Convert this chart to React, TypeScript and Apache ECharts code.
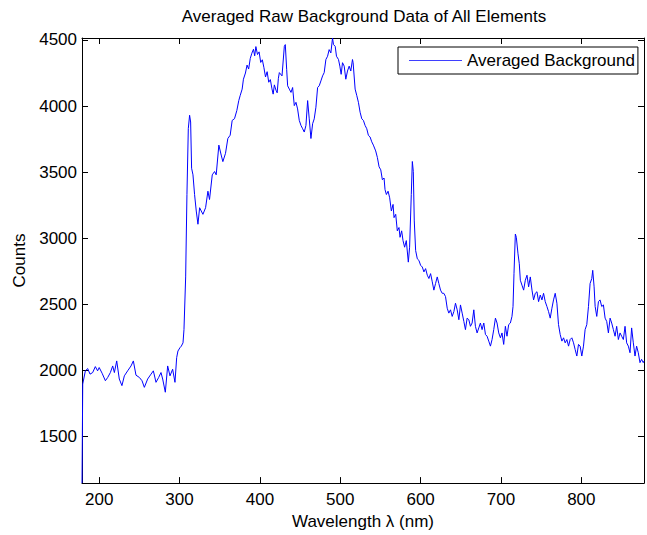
import React, { useEffect, useRef } from "react";
import * as echarts from "echarts";

const TITLE = "Averaged Raw Background Data of All Elements";
const X_NAME = "Wavelength λ (nm)";
const Y_NAME = "Counts";
const SERIES_NAME = "Averaged Background";

const X_MIN = 178.6;
const X_MAX = 878;
const Y_MIN = 1145;
const Y_MAX = 4515;

const wavelength = [
  178.6, 179.5, 182.8, 185.7, 188.6, 191.9, 195.2, 198.0, 200.0, 203.6, 207.7, 210.6, 213.9, 216.8, 218.9,
  221.8, 225.0, 228.3, 231.3, 235.4, 239.6, 242.5, 245.8, 250.0, 253.3, 256.2, 260.3, 264.5, 267.4, 270.7,
  274.0, 276.9, 279.0, 282.3, 285.2, 288.1, 291.4, 294.3, 296.4, 298.0, 300.5, 302.2, 304.3, 305.5, 307.6,
  309.2, 310.9, 312.5, 313.8, 315.0, 316.7, 318.7, 320.8, 322.9, 325.0, 327.0, 329.1, 332.4, 335.3, 337.3,
  340.7, 343.6, 345.6, 348.9, 351.8, 353.9, 357.2, 360.1, 363.0, 365.5, 368.4, 371.3, 373.7, 375.4, 377.9,
  379.5, 382, 384, 386, 388, 390, 392, 393.5, 395, 397, 399, 401, 403, 405, 407, 409, 411, 413, 415, 416.5,
  418, 420, 421.5, 423, 424.2, 427.5, 430.4, 431.6, 433.3, 434.5, 436.6, 438.7, 440.7, 442.8, 444.9, 446.9,
  449.0, 451.1, 453.2, 455.2, 457.3, 459.4, 461.4, 463.5, 465.6, 467.6, 469.7, 471.8, 473.8, 475.9, 478.0,
  480.0, 482.1, 484.2, 486.2, 488.3, 490.4, 491.6, 493.7, 495.3, 497.8, 499.5, 501.1, 502.8, 504.9, 506.9,
  509.0, 511.1, 513.1, 515.2, 516.0, 518.5, 520.6, 522.6, 524.7, 526.8, 528.8, 530.9, 533.0, 535.0, 537.1,
  539.2, 541.2, 544.1, 546.2, 548.3, 550.4, 552.4, 554.5, 555.7, 557.4, 559.5, 561.5, 563.6, 565.7, 566.9,
  569.0, 571.0, 573.1, 574.4, 576.4, 578.1, 580.1, 582.2, 584.7, 586.3, 588.4, 589.7, 590.9, 592.1, 593.8,
  595.9, 597.9, 600.0, 602.1, 604.1, 606.2, 608.3, 610.3, 612.4, 614.5, 616.5, 618.6, 620.7, 622.7, 624.8,
  626.9, 628.9, 631.0, 633.1, 635.1, 637.2, 639.3, 641.4, 643.4, 645.5, 647.6, 649.6, 651.7, 653.8, 655.8,
  657.9, 660.0, 662.0, 664.1, 666.2, 668.2, 670.3, 672.4, 674.4, 676.5, 678.6, 680.7, 682.7, 684.8, 686.9,
  688.9, 691.0, 693.1, 695.1, 697.2, 699.3, 701.3, 703.4, 705.5, 707.5, 709.6, 711.7, 713.7, 715.0, 716.2,
  717.9, 719.1, 721.2, 722.8, 724.1, 726.1, 728.2, 730.3, 732.4, 734.4, 736.5, 738.6, 740.6, 742.7, 744.8,
  746.8, 748.9, 751.0, 753.0, 755.1, 757.2, 759.2, 761.3, 763.4, 765.4, 767.5, 769.6, 771.6, 773.7, 775.8,
  777.9, 779.9, 782.0, 784.1, 786.1, 788.2, 790.3, 792.3, 794.4, 796.5, 798.5, 800.6, 802.7, 804.7, 806.8,
  808.9, 810.9, 813.0, 814.2, 815.9, 817.2, 819.2, 821.3, 823.3, 825.4, 827.5, 829.6, 831.6, 833.7, 835.8,
  837.8, 839.9, 842.0, 844.0, 846.1, 848.2, 850.2, 852.3, 854.4, 856.4, 858.5, 860.6, 862.6, 864.7, 866.8,
  868.8, 870.9, 873.0, 875.0, 877.1, 878.0,
];

const counts = [
  1145, 1895, 1995, 2012, 1970, 1982, 2027, 1995, 2020, 1977, 1920, 1945, 1982, 2032, 1982,
  2070, 1933, 1883, 1957, 1995, 2032, 2070, 1962, 1945, 1920, 1870, 1933, 1970, 1995, 1908,
  1945, 1982, 1933, 1833, 2032, 1957, 2007, 1908, 2095, 2145, 2170, 2182, 2207, 2307, 2706,
  3330, 3829, 3930, 3879, 3529, 3479, 3330, 3205, 3105, 3230, 3205, 3180, 3230, 3355, 3292,
  3479, 3504, 3479, 3704, 3629, 3579, 3642, 3754, 3779, 3891, 3904, 3966, 4041, 4078, 4128,
  4203, 4250, 4310, 4280, 4360, 4400, 4430, 4380, 4450, 4390, 4410, 4330, 4350, 4290, 4220, 4260, 4180, 4200, 4130, 4090,
  4160, 4120, 4100, 4210, 4253, 4228, 4452, 4465, 4278, 4153, 4128, 4103, 4140, 4003, 4028, 3978,
  3891, 3853, 3828, 3803, 3853, 4041, 3903, 3754, 3866, 3903, 3991, 4140, 4153, 4190, 4228,
  4253, 4352, 4377, 4427, 4402, 4515, 4465, 4452, 4377, 4352, 4302, 4240, 4328, 4302, 4203,
  4265, 4302, 4265, 4352, 4328, 4128, 4078, 4028, 3953, 3903, 3891, 3853, 3828, 3778, 3766,
  3729, 3704, 3660, 3610, 3540, 3517, 3442, 3455, 3367, 3330, 3355, 3305, 3205, 3255, 3155,
  3180, 3055, 3080, 3006, 3055, 2981, 2931, 2981, 2818, 2931, 3330, 3580, 3505, 3130, 2906,
  2843, 2831, 2794, 2781, 2744, 2769, 2719, 2694, 2731, 2669, 2606, 2656, 2706, 2656, 2606,
  2582, 2582, 2557, 2469, 2432, 2457, 2407, 2444, 2507, 2457, 2382, 2494, 2432, 2369, 2307,
  2394, 2382, 2332, 2357, 2457, 2332, 2282, 2320, 2357, 2307, 2357, 2270, 2257, 2220, 2182,
  2232, 2307, 2394, 2357, 2282, 2245, 2282, 2195, 2332, 2257, 2345, 2357, 2407, 2482, 2731,
  3031, 3006, 2881, 2806, 2681, 2644, 2606, 2681, 2719, 2631, 2706, 2606, 2532, 2582, 2594,
  2519, 2569, 2532, 2582, 2519, 2482, 2444, 2394, 2469, 2532, 2582, 2507, 2345, 2270, 2220,
  2245, 2207, 2232, 2182, 2232, 2245, 2207, 2157, 2107, 2195, 2182, 2107, 2182, 2307, 2345,
  2482, 2656, 2694, 2756, 2631, 2482, 2407, 2519, 2532, 2482, 2494, 2394, 2369, 2282, 2394,
  2357, 2307, 2257, 2332, 2232, 2282, 2257, 2232, 2332, 2207, 2182, 2132, 2320, 2207, 2107,
  2182, 2132, 2057, 2082, 2057, 2070,
];

const FONT = "'Liberation Sans', Arial, Helvetica, sans-serif";

export default function App() {
  const ref = useRef<HTMLDivElement>(null);

  useEffect(() => {
    if (!ref.current) return;
    const chart = echarts.init(ref.current, undefined, { renderer: "svg" });
    const data = wavelength.map((w, i) => [w, counts[i]]);
    const axisCommon = {
      type: "value" as const,
      axisLine: { show: true, onZero: false, lineStyle: { color: "#000", width: 1 } },
      axisTick: { show: true, inside: true, length: 6, lineStyle: { color: "#000", width: 1 } },
      splitLine: { show: false },
    };
    chart.setOption({
      animation: false,
      backgroundColor: "#fff",
      textStyle: { fontFamily: FONT },
      graphic: [
        {
          type: "text",
          x: 364,
          y: 16,
          style: {
            text: TITLE,
            fontSize: 17,
            fontFamily: FONT,
            fill: "#000",
            textAlign: "center",
            textVerticalAlign: "middle",
          },
        },
      ],
      grid: { left: 82, right: 1, top: 38, bottom: 47, containLabel: false },
      legend: {
        show: true,
        left: 398,
        top: 47,
        orient: "horizontal",
        itemWidth: 53,
        itemHeight: 1,
        itemGap: 0,
        padding: [4, 3, 4, 11],
        borderColor: "#000",
        borderWidth: 1,
        borderRadius: 0,
        backgroundColor: "#fff",
        textStyle: { fontSize: 17, color: "#000", fontFamily: FONT, lineHeight: 19 },
        data: [
          {
            name: SERIES_NAME,
            icon: "rect",
            itemStyle: { color: "#3f3fff", borderWidth: 0 },
          },
        ],
      },
      xAxis: [
        {
          ...axisCommon,
          position: "bottom",
          min: X_MIN,
          max: X_MAX,
          minInterval: 100,
          maxInterval: 100,
          axisLabel: {
            show: true,
            margin: 8,
            fontSize: 17,
            color: "#000",
            fontFamily: FONT,
            formatter: (v: number) => (Math.abs(v % 100) < 1e-6 ? String(v) : ""),
          },
          name: X_NAME,
          nameLocation: "middle",
          nameGap: 29,
          nameTextStyle: { fontSize: 17, color: "#000", fontFamily: FONT },
        },
        {
          ...axisCommon,
          position: "top",
          min: X_MIN,
          max: X_MAX,
          minInterval: 100,
          maxInterval: 100,
          axisLabel: { show: false },
        },
      ],
      yAxis: [
        {
          ...axisCommon,
          position: "left",
          min: Y_MIN,
          max: Y_MAX,
          minInterval: 500,
          maxInterval: 500,
          axisLabel: {
            show: true,
            margin: 5,
            fontSize: 17,
            color: "#000",
            fontFamily: FONT,
            formatter: (v: number) => (Math.abs(v % 500) < 1e-6 ? String(v) : ""),
          },
          name: Y_NAME,
          nameLocation: "middle",
          nameGap: 53,
          nameTextStyle: { fontSize: 17, color: "#000", fontFamily: FONT },
        },
        {
          ...axisCommon,
          position: "right",
          min: Y_MIN,
          max: Y_MAX,
          minInterval: 500,
          maxInterval: 500,
          axisLabel: { show: false },
        },
      ],
      series: [
        {
          name: SERIES_NAME,
          type: "line",
          xAxisIndex: 0,
          yAxisIndex: 0,
          data,
          symbol: "none",
          showSymbol: false,
          clip: true,
          lineStyle: { color: "#0000ff", width: 1 },
          itemStyle: { color: "#0000ff" },
        },
      ],
    });
    return () => chart.dispose();
  }, []);

  return (
    <div
      ref={ref}
      style={{ position: "fixed", left: 0, top: 0, width: 647, height: 535 }}
    />
  );
}
